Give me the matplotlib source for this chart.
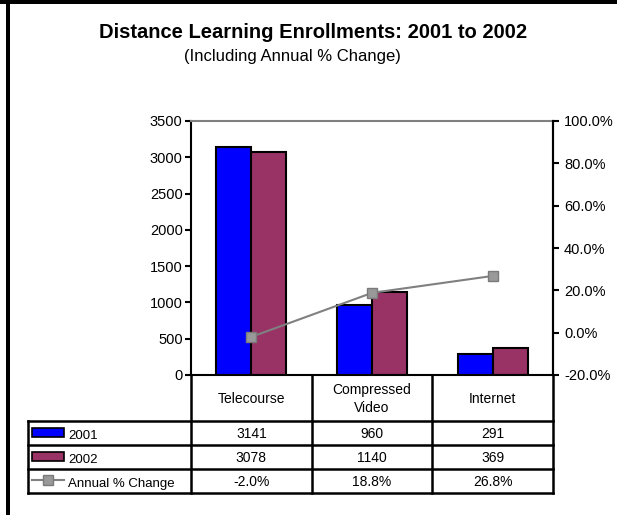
import matplotlib
matplotlib.use("Agg")
import matplotlib.pyplot as plt
from matplotlib.patches import Rectangle

plt.rcParams['font.family'] = ['Liberation Sans', 'DejaVu Sans']

categories = ['Telecourse', 'Compressed\nVideo', 'Internet']
enroll_2001 = [3141, 960, 291]
enroll_2002 = [3078, 1140, 369]
pct_change = [-2.0, 18.8, 26.8]
series_names = ['2001', '2002', 'Annual % Change']

blue = '#0000FF'
maroon = '#993366'
gray = '#808080'
fs = 10.5      # axis ticks
fs_tab = 10    # table cells

W, H = 617, 515
fig = plt.figure(figsize=(W / 100, H / 100), dpi=100)

# plot area in pixels
px_left, px_right, px_top, px_bottom = 191, 553, 121, 375
ax = fig.add_axes([px_left / W, 1 - px_bottom / H,
                   (px_right - px_left) / W, (px_bottom - px_top) / H])

x = list(range(len(categories)))
bw = 0.29
ax.bar([i - bw / 2 for i in x], enroll_2001, bw, color=blue,
       edgecolor='black', linewidth=1.5, zorder=2)
ax.bar([i + bw / 2 for i in x], enroll_2002, bw, color=maroon,
       edgecolor='black', linewidth=1.5, zorder=2)
ax.set_xlim(-0.5, 2.5)
ax.set_ylim(0, 3500)
ax.set_yticks(range(0, 3501, 500))
ax.set_xticks([])
ax.tick_params(axis='y', direction='out', length=4, width=1.5, labelsize=fs, pad=2)
for s in ['left', 'bottom', 'right']:
    ax.spines[s].set_linewidth(1.5)
ax.spines['top'].set_color(gray)
ax.spines['top'].set_linewidth(1.5)

ax2 = ax.twinx()
ax2.plot(x, pct_change, color=gray, linewidth=1.5, marker='s', markersize=7,
         markerfacecolor='#999999', markeredgecolor='#7a7a7a', zorder=3)
ax2.set_ylim(-20, 100)
ax2.set_yticks(range(-20, 101, 20))
ax2.set_yticklabels(['%.1f%%' % v for v in range(-20, 101, 20)])
ax2.tick_params(axis='y', direction='out', length=4, width=1.5, labelsize=fs, pad=4)
ax2.spines['right'].set_linewidth(1.5)
ax2.spines['top'].set_visible(False)
ax2.spines['left'].set_visible(False)
ax2.spines['bottom'].set_visible(False)

# data table under the chart
tab_left, tab_bottom = 28, 493
unit = (px_right - px_left) / 3.0
x_left = -0.5 - (px_left - tab_left) / unit
row_h = 24
head = 46
tax = fig.add_axes([tab_left / W, 1 - tab_bottom / H,
                    (px_right - tab_left) / W, (tab_bottom - px_bottom) / H])
tax.set_xlim(x_left, 2.5)
tax.set_ylim(tab_bottom - px_bottom, 0)
tax.axis('off')

lw = 1.8
ys = [head, head + row_h, head + 2 * row_h, head + 3 * row_h]
for xb in [-0.5, 0.5, 1.5, 2.5]:
    tax.plot([xb, xb], [0, ys[-1]], color='black', lw=lw, clip_on=False)
tax.plot([x_left, x_left], [ys[0], ys[-1]], color='black', lw=lw, clip_on=False)
for yb in ys:
    tax.plot([x_left, 2.5], [yb, yb], color='black', lw=lw, clip_on=False)

for i, c in enumerate(categories):
    tax.text(i, head / 2 + 1, c, ha='center', va='center', fontsize=fs_tab,
             linespacing=1.3)

rows = [[str(v) for v in enroll_2001],
        [str(v) for v in enroll_2002],
        ['%.1f%%' % v for v in pct_change]]
for r, vals in enumerate(rows):
    yc = ys[r] + row_h / 2
    for i, v in enumerate(vals):
        tax.text(i, yc + 1, v, ha='center', va='center', fontsize=fs_tab)

# legend keys in the row labels
key_w = 32 / unit
kx = x_left + 4 / unit
for r, col in enumerate([blue, maroon]):
    yc = ys[r] + row_h / 2
    tax.add_patch(Rectangle((kx, yc - 5), key_w, 9, facecolor=col,
                            edgecolor='black', lw=1.2, clip_on=False))
yc = ys[2] + row_h / 2
tax.plot([kx, kx + key_w], [yc - 1, yc - 1], color=gray, lw=1.5, clip_on=False)
tax.plot([kx + key_w / 2], [yc - 1], marker='s', markersize=7, color='#999999',
         markeredgecolor='#7a7a7a', clip_on=False)
for r, name in enumerate(series_names):
    yc = ys[r] + row_h / 2
    tax.text(kx + key_w + 4 / unit, yc + 3, name, ha='left', va='center',
             fontsize=9.5)

# titles
fig.text(313 / W, 1 - 33 / H, 'Distance Learning Enrollments: 2001 to 2002',
         ha='center', va='center', fontsize=14.5, fontweight='bold')
fig.text(292 / W, 1 - 56 / H, '(Including Annual % Change)',
         ha='center', va='center', fontsize=12)

# page border
fig.add_artist(Rectangle((0, 1 - 4 / H), 1, 4 / H, transform=fig.transFigure,
                         facecolor='black', edgecolor='none'))
fig.add_artist(Rectangle((6 / W, 0), 4 / W, 1, transform=fig.transFigure,
                         facecolor='black', edgecolor='none'))

fig.savefig('out.png', dpi=100)
